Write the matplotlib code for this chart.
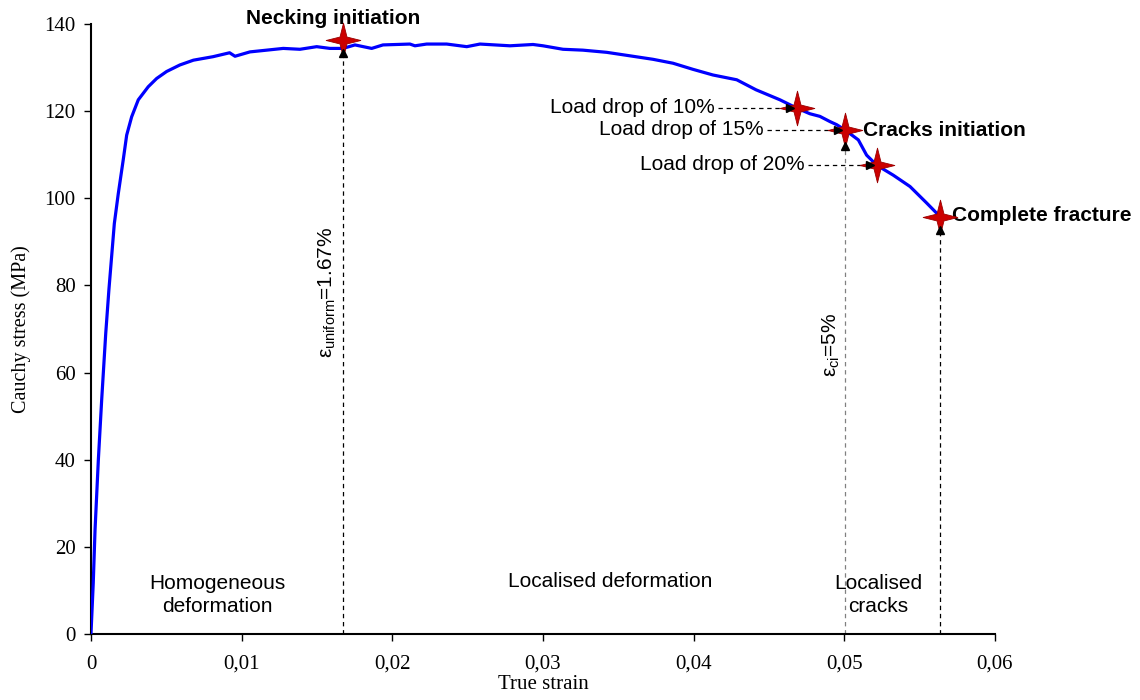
import matplotlib
matplotlib.use("Agg")
import matplotlib.pyplot as plt
from matplotlib.path import Path

plt.rcParams['font.family'] = ['Liberation Serif', 'DejaVu Serif']
plt.rcParams['mathtext.fontset'] = 'custom'
plt.rcParams['mathtext.rm'] = 'Liberation Sans'
plt.rcParams['mathtext.it'] = 'Liberation Sans:italic'

# tensile curve
strain = [0, 0.00015, 0.00027, 0.00049, 0.00071, 0.00098, 0.00119, 0.00155,
          0.00181, 0.00214, 0.00237, 0.0027, 0.00314, 0.0038, 0.00436, 0.00502,
          0.0059, 0.0068, 0.0081, 0.0092, 0.00956, 0.01055, 0.01166, 0.01276,
          0.01387, 0.01498, 0.01586, 0.01673, 0.01752, 0.01863, 0.01938, 0.02117,
          0.0215, 0.02228, 0.02361, 0.02494, 0.02582, 0.02781, 0.02934, 0.03,
          0.03133, 0.03265, 0.03423, 0.03577, 0.0373, 0.03863, 0.03995, 0.04128,
          0.04286, 0.04414, 0.04573, 0.04684, 0.04772, 0.04838, 0.04905, 0.04949,
          0.05004, 0.05093, 0.05148, 0.05215, 0.05325, 0.05436, 0.05547, 0.05635]
stress = [0, 11.6, 23.9, 40, 53.7, 69, 79, 94.2,
          101, 108.8, 114.5, 118.7, 122.6, 125.6, 127.5, 129.1,
          130.6, 131.7, 132.5, 133.4, 132.6, 133.6, 134, 134.4,
          134.2, 134.8, 134.4, 134.4, 135.2, 134.4, 135.2, 135.4,
          135, 135.4, 135.4, 134.8, 135.4, 135, 135.3, 135,
          134.2, 134, 133.5, 132.7, 131.9, 131, 129.6, 128.3,
          127.2, 124.9, 122.6, 120.7, 119.4, 118.8, 117.6, 116.9,
          115.7, 113.4, 109.9, 107.6, 105.3, 102.7, 98.9, 95.8]

# marked events
star_x = [0.01672, 0.04684, 0.05004, 0.05215, 0.05635]
star_y = [136.3, 120.7, 115.7, 107.6, 95.8]

drop_labels = ['Load drop of 10%', 'Load drop of 15%', 'Load drop of 20%']
drop_y = [120.7, 115.7, 107.6]
drop_x0 = [0.04161, 0.04487, 0.04759]
drop_x1 = [0.04639, 0.04958, 0.0517]

eps_uniform = 0.01672
eps_ci = 0.05004
eps_frac = 0.05635

xticks = [0, 0.01, 0.02, 0.03, 0.04, 0.05, 0.06]
xticklabels = ['0', '0,01', '0,02', '0,03', '0,04', '0,05', '0,06']
yticks = [0, 20, 40, 60, 80, 100, 120, 140]

sans = ['Liberation Sans', 'DejaVu Sans']
fs = 15

fig = plt.figure(figsize=(11.4, 7), dpi=100)
ax = fig.add_axes([0.0798, 0.0943, 0.7930, 0.8714])

ax.plot(strain, stress, color='#0000FF', lw=2.3, zorder=3)

# dashed guide lines with arrow heads (heads drawn over the stars)
dash = (0, (3.5, 3))
ax.plot([eps_uniform, eps_uniform], [0, 133], color='black', ls=dash, lw=0.9, zorder=2)
ax.plot([eps_uniform], [133.4], marker='^', color='black', ms=6, zorder=6)
ax.plot([eps_ci, eps_ci], [0, 111.5], color='#808080', ls=dash, lw=0.9, zorder=2)
ax.plot([eps_ci], [112.0], marker='^', color='black', ms=6, zorder=6)
ax.plot([eps_frac, eps_frac], [0, 92.5], color='black', ls=dash, lw=0.9, zorder=2)
ax.plot([eps_frac], [92.8], marker='^', color='black', ms=6, zorder=6)

for lab, y, x0, x1 in zip(drop_labels, drop_y, drop_x0, drop_x1):
    ax.plot([x0, x1], [y, y], color='black', ls=dash, lw=0.9, zorder=2)
    ax.plot([x1], [y], marker='>', color='black', ms=6, zorder=6)
    ax.text(x0 - 0.0002, y + 0.2, lab, ha='right', va='center', fontsize=fs, family=sans)

# four point star marker
a = 0.2
star = Path([(0, 1), (a, a), (1, 0), (a, -a), (0, -1), (-a, -a), (-1, 0), (-a, a), (0, 1)],
            [Path.MOVETO] + [Path.LINETO] * 7 + [Path.CLOSEPOLY])
ax.plot(star_x, star_y, ls='none', marker=star, ms=25, mfc='#CC0000', mec='#9A0000',
        mew=0.6, zorder=5, clip_on=False)

ax.text(0.01606, 141.2, 'Necking initiation', ha='center', va='center', fontsize=fs,
        fontweight='bold', family=sans, clip_on=False)
ax.text(0.05124, 115.5, 'Cracks initiation', ha='left', va='center', fontsize=fs,
        fontweight='bold', family=sans)
ax.text(0.05714, 96.0, 'Complete fracture', ha='left', va='center', fontsize=fs,
        fontweight='bold', family=sans, clip_on=False)

ax.text(0.01566, 78.5, r'ε$_{\mathrm{uniform}}$=1.67%', rotation=90, ha='center', va='center',
        fontsize=fs, family=sans)
ax.text(0.04911, 66.3, r'ε$_{\mathrm{ci}}$=5%', rotation=90, ha='center', va='center',
        fontsize=fs, family=sans)

ax.text(0.00836, 9.0, 'Homogeneous\ndeformation', ha='center', va='center', fontsize=fs,
        family=sans, linespacing=1.25)
ax.text(0.03445, 12.0, 'Localised deformation', ha='center', va='center', fontsize=fs,
        family=sans)
ax.text(0.05223, 9.0, 'Localised\ncracks', ha='center', va='center', fontsize=fs,
        family=sans, linespacing=1.25)

ax.set_xlim(0, 0.06)
ax.set_ylim(0, 140)
ax.set_xticks(xticks)
ax.set_xticklabels(xticklabels)
ax.set_yticks(yticks)
ax.tick_params(axis='both', direction='out', length=5, width=1, labelsize=15, pad=6)
ax.tick_params(axis='x', pad=10)

for side in ['top', 'right']:
    ax.spines[side].set_visible(False)
for side in ['left', 'bottom']:
    ax.spines[side].set_linewidth(1.5)

ax.set_xlabel('True strain', fontsize=15, labelpad=1)
ax.set_ylabel('Cauchy stress (MPa)', fontsize=14.5, labelpad=10)

fig.savefig('out.png', dpi=100)
